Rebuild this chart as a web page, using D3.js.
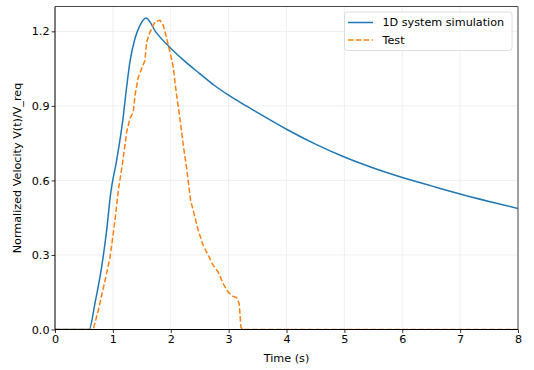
<!DOCTYPE html>
<html>
<head>
<meta charset="utf-8">
<script src="https://cdn.jsdelivr.net/npm/d3@7"></script>
<style>
  body { margin: 0; background: #fff; }
  svg { display: block; font-family: "DejaVu Sans", sans-serif; }
</style>
</head>
<body>
<svg width="534" height="370"></svg>
<script>
// 1D system simulation
var simTime = [0, 0.59, 0.69, 0.806, 0.893, 0.96, 1.065, 1.17, 1.238, 1.295, 1.382, 1.468, 1.572,
  1.75, 2.0, 2.25, 2.5, 2.75, 3.0, 3.25, 3.5, 4.0, 4.5, 5.0, 5.5, 6.0, 6.5, 7.0, 7.5, 8.0];
var simVel = [0, 0, 0.105, 0.252, 0.40, 0.545, 0.681, 0.84, 0.976, 1.078, 1.171, 1.224, 1.254,
  1.195, 1.132, 1.078, 1.03, 0.983, 0.943, 0.907, 0.873, 0.806, 0.746, 0.694, 0.650, 0.612, 0.578, 0.545, 0.515, 0.487];

// Test
var testTime = [0, 0.66, 0.748, 0.864, 0.95, 0.99, 1.036, 1.094, 1.151, 1.209, 1.238, 1.295, 1.353, 1.382,
  1.439, 1.497, 1.554, 1.583, 1.641, 1.727, 1.813, 1.871, 1.917, 1.986, 2.044, 2.073, 2.102, 2.159, 2.217,
  2.274, 2.343, 2.418, 2.475, 2.562, 2.648, 2.734, 2.82, 2.907, 2.993, 3.079, 3.137, 3.183, 3.212, 3.235, 8.0];
var testVel = [0, 0, 0.077, 0.197, 0.29, 0.358, 0.439, 0.56, 0.645, 0.741, 0.795, 0.849, 0.875, 0.942,
  1.016, 1.05, 1.083, 1.157, 1.197, 1.238, 1.245, 1.224, 1.184, 1.117, 1.056, 0.996, 0.942, 0.849, 0.741,
  0.65, 0.52, 0.452, 0.399, 0.338, 0.298, 0.258, 0.231, 0.184, 0.15, 0.133, 0.128, 0.104, 0.01, 0, 0];

var xTicks = [0, 1, 2, 3, 4, 5, 6, 7, 8];
var yTicks = [0, 0.3, 0.6, 0.9, 1.2];

var seriesNames = ["1D system simulation", "Test"];
var seriesColors = ["#1f77b4", "#ff7f0e"];

var svg = d3.select("svg");
var pLeft = 55, pRight = 518, pTop = 6.5, pBottom = 329.5;
var fs = 11.2;

var x = d3.scaleLinear().domain([0, 8]).range([pLeft, pRight]);
var y = d3.scaleLinear().domain([0, 1.3]).range([pBottom, pTop]);

// grid
var grid = svg.append("g").attr("stroke", "#ebebeb").attr("stroke-width", 0.8);
grid.selectAll(".gx").data(xTicks).enter().append("line")
  .attr("x1", function(d) { return x(d); }).attr("x2", function(d) { return x(d); })
  .attr("y1", pTop).attr("y2", pBottom);
grid.selectAll(".gy").data(yTicks).enter().append("line")
  .attr("y1", function(d) { return y(d); }).attr("y2", function(d) { return y(d); })
  .attr("x1", pLeft).attr("x2", pRight);

svg.append("clipPath").attr("id", "clip").append("rect")
  .attr("x", pLeft).attr("y", pTop).attr("width", pRight - pLeft).attr("height", pBottom - pTop);

var plot = svg.append("g").attr("clip-path", "url(#clip)");

var simLine = d3.line()
  .x(function(d, i) { return x(simTime[i]); })
  .y(function(d) { return y(d); })
  .curve(d3.curveMonotoneX);

var testLine = d3.line()
  .x(function(d, i) { return x(testTime[i]); })
  .y(function(d) { return y(d); });

plot.append("path").attr("d", simLine(simVel))
  .attr("fill", "none").attr("stroke", seriesColors[0]).attr("stroke-width", 1.5);

plot.append("path").attr("d", testLine(testVel))
  .attr("fill", "none").attr("stroke", seriesColors[1]).attr("stroke-width", 1.5)
  .attr("stroke-dasharray", "5.5,2.4");

// axes
var xAxis = svg.append("g").attr("transform", "translate(0," + pBottom + ")")
  .call(d3.axisBottom(x).tickValues(xTicks).tickSizeOuter(0).tickSize(3.5).tickFormat(d3.format("d")));
var yAxis = svg.append("g").attr("transform", "translate(" + pLeft + ",0)")
  .call(d3.axisLeft(y).tickValues(yTicks).tickSizeOuter(0).tickSize(3.5).tickFormat(d3.format(".1f")));

[xAxis, yAxis].forEach(function(a) {
  a.select(".domain").remove();
  a.selectAll("line").attr("stroke", "#000").attr("stroke-width", 0.8);
  a.selectAll("text").attr("font-family", "DejaVu Sans").attr("font-size", fs).attr("fill", "#000");
});
xAxis.selectAll("text").attr("dy", "0.72em").attr("y", 5.5);
yAxis.selectAll("text").attr("x", -5.5);

// spines
svg.append("line").attr("x1", pLeft).attr("x2", pRight).attr("y1", pTop).attr("y2", pTop)
  .attr("stroke", "#333").attr("stroke-width", 0.9);
svg.append("line").attr("x1", pRight).attr("x2", pRight).attr("y1", pTop).attr("y2", pBottom)
  .attr("stroke", "#666").attr("stroke-width", 1.2);
svg.append("line").attr("x1", pLeft).attr("x2", pLeft).attr("y1", pTop).attr("y2", pBottom)
  .attr("stroke", "#000").attr("stroke-width", 1);
svg.append("line").attr("x1", pLeft).attr("x2", pRight).attr("y1", pBottom).attr("y2", pBottom)
  .attr("stroke", "#000").attr("stroke-width", 1);

// axis labels
svg.append("text").attr("x", (pLeft + pRight) / 2).attr("y", 362)
  .attr("text-anchor", "middle").attr("font-size", fs).text("Time (s)");
svg.append("text").attr("transform", "translate(21," + ((pTop + pBottom) / 2) + ") rotate(-90)")
  .attr("text-anchor", "middle").attr("font-size", fs).text("Normalized Velocity V(t)/V_req");

// legend
var lg = svg.append("g");
lg.append("rect").attr("x", 344.5).attr("y", 12).attr("width", 167.5).attr("height", 38.5)
  .attr("rx", 2.5).attr("fill", "#fff").attr("fill-opacity", 0.8)
  .attr("stroke", "#d6d6d6").attr("stroke-width", 0.8);
seriesNames.forEach(function(name, i) {
  var yy = 22.5 + i * 17.5;
  lg.append("line").attr("x1", 348).attr("x2", 373).attr("y1", yy).attr("y2", yy)
    .attr("stroke", seriesColors[i]).attr("stroke-width", 1.5)
    .attr("stroke-dasharray", i === 1 ? "5.5,2.4" : null);
  lg.append("text").attr("x", 382.5).attr("y", yy).attr("dy", "0.35em")
    .attr("font-size", fs).text(name);
});
</script>
</body>
</html>
